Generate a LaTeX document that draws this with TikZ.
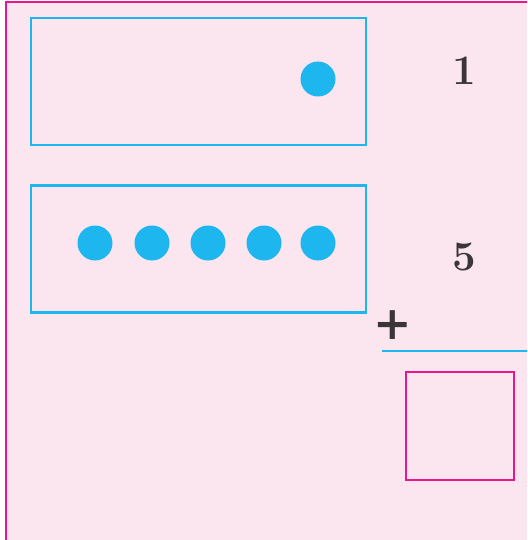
\documentclass[tikz,border=0pt]{standalone}
\usepackage{fontspec}
\usetikzlibrary{positioning}
\newfontfamily\plusfont{DejaVu Serif}
\definecolor{PageRose}{HTML}{FBE5EE}
\definecolor{FrameMagenta}{HTML}{EC168C}
\definecolor{CountBlue}{HTML}{1DB6EF}
\definecolor{DigitGrey}{HTML}{3A3536}

\begin{document}
\begin{tikzpicture}[x=1pt, y=-1pt,
  countbox/.style={draw=CountBlue, line width=2.2pt, minimum width=335pt, minimum height=127pt, inner sep=0pt},
  counter/.style={circle, fill=CountBlue, minimum size=35pt, inner sep=0pt},
  digit/.style={text=DigitGrey, font=\fontsize{42}{44}\selectfont\bfseries, inner sep=0pt}]
  \useasboundingbox (0,0) rectangle (527,540);
  \fill[white] (0,0) rectangle (527,540);
  \fill[PageRose] (6,2) rectangle (527,540);
  \draw[FrameMagenta, line width=2.2pt] (6,540) -- (6,2) -- (527,2);
  % first row: one counter
  \node[countbox] (boxone) at (198.5,81.5) {};
  \node[counter] (single) at (318,79) {};
  \node[digit] (one) at (464,71) {1};
  % second row: five counters
  \node[countbox] (boxfive) at (198.5,249) {};
  \foreach \x [count=\i] in {95,152,208,264,318}
    \node[counter] (dot\i) at (\x,243) {};
  \node[digit] (five) at (464,257) {5};
  % sum
  \node[text=DigitGrey, font=\plusfont\bfseries\fontsize{46}{48}\selectfont, inner sep=0pt] (plus) at (393,325) {+};
  \coordinate (sumL) at (382,351);
  \coordinate (sumR) at (527,351);
  \draw[CountBlue, line width=2.2pt] (sumL) -- (sumR);
  \node[draw=FrameMagenta, line width=2.2pt, minimum size=108pt, inner sep=0pt] (answer) at (460,426) {};
\end{tikzpicture}
\end{document}
